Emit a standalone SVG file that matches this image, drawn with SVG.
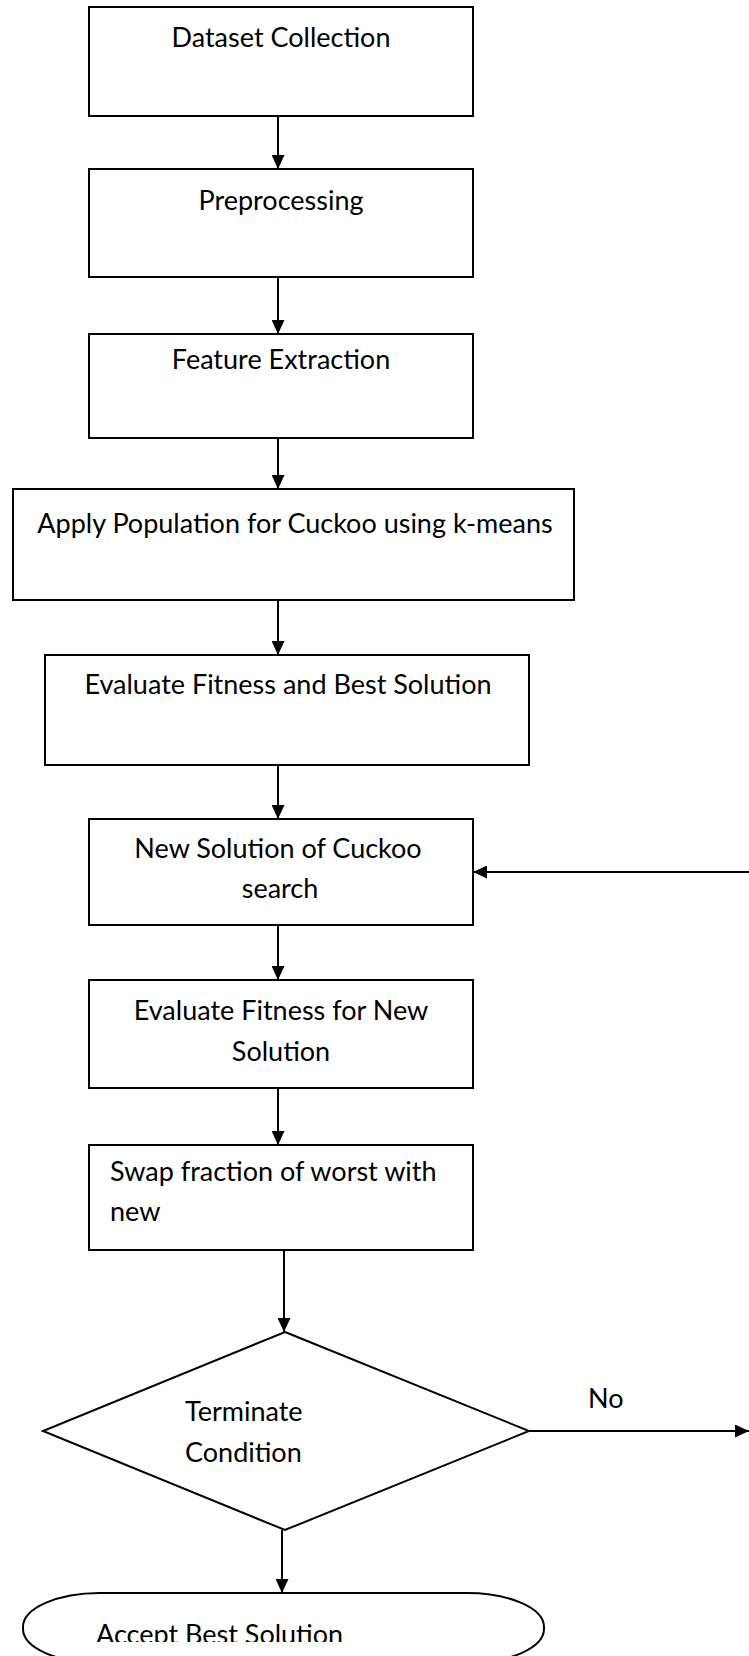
<svg xmlns="http://www.w3.org/2000/svg" width="749" height="1656" viewBox="0 0 749 1656">
<defs>
<style>
.box{fill:#fff;stroke:#000;stroke-width:2}
.ln{fill:none;stroke:#000;stroke-width:2}
.t{font-family:Lato,"Liberation Sans",sans-serif;font-size:27px;fill:#000}
.c{text-anchor:middle}
</style>
<marker id="ah" viewBox="0 0 14 13" refX="14" refY="6.5" markerWidth="14" markerHeight="13" markerUnits="userSpaceOnUse" orient="auto">
<path d="M0,0 L14,6.5 L0,13 Z" fill="#000"/>
</marker>
<clipPath id="clipA"><rect x="0" y="1590" width="749" height="52"/></clipPath>
</defs>
<rect width="749" height="1656" fill="#fff"/>
<g id="connectors">
<line class="ln" x1="278" y1="116" x2="278" y2="169" marker-end="url(#ah)"/>
<line class="ln" x1="278" y1="277" x2="278" y2="334" marker-end="url(#ah)"/>
<line class="ln" x1="278" y1="438" x2="278" y2="489" marker-end="url(#ah)"/>
<line class="ln" x1="278" y1="600" x2="278" y2="655" marker-end="url(#ah)"/>
<line class="ln" x1="278" y1="765" x2="278" y2="819" marker-end="url(#ah)"/>
<line class="ln" x1="278" y1="925" x2="278" y2="980" marker-end="url(#ah)"/>
<line class="ln" x1="278" y1="1088" x2="278" y2="1145" marker-end="url(#ah)"/>
<line class="ln" x1="284" y1="1250" x2="284" y2="1332" marker-end="url(#ah)"/>
<line class="ln" x1="282" y1="1530" x2="282" y2="1593" marker-end="url(#ah)"/>
<line class="ln" x1="749" y1="872" x2="473" y2="872" marker-end="url(#ah)"/>
<line class="ln" x1="529" y1="1431" x2="749" y2="1431" marker-end="url(#ah)"/>
<text class="t" x="588" y="1408">No</text>
</g>
<g id="n1"><rect class="box" x="89" y="7" width="384" height="109"/><text class="t c" x="281" y="47">Dataset Collection</text></g>
<g id="n2"><rect class="box" x="89" y="169" width="384" height="108"/><text class="t c" x="281" y="210">Preprocessing</text></g>
<g id="n3"><rect class="box" x="89" y="334" width="384" height="104"/><text class="t c" x="281" y="369">Feature Extraction</text></g>
<g id="n4"><rect class="box" x="13" y="489" width="561" height="111"/><text class="t c" x="295" y="533">Apply Population for Cuckoo using k-means</text></g>
<g id="n5"><rect class="box" x="45" y="655" width="484" height="110"/><text class="t c" x="288" y="694">Evaluate Fitness and Best Solution</text></g>
<g id="n6"><rect class="box" x="89" y="819" width="384" height="106"/><text class="t c" x="278" y="858">New Solution of Cuckoo</text><text class="t c" x="280" y="898">search</text></g>
<g id="n7"><rect class="box" x="89" y="980" width="384" height="108"/><text class="t c" x="281" y="1020">Evaluate Fitness for New</text><text class="t c" x="281" y="1061">Solution</text></g>
<g id="n8"><rect class="box" x="89" y="1145" width="384" height="105"/><text class="t" x="110" y="1181">Swap fraction of worst with</text><text class="t" x="110" y="1221">new</text></g>
<g id="n9"><polygon class="box" points="285,1332 529,1431 285,1530 43,1431"/><text class="t" x="185" y="1421">Terminate</text><text class="t" x="185" y="1462">Condition</text></g>
<g id="n10"><rect class="box" x="23" y="1593" width="521" height="70" rx="77" ry="34"/><text class="t" x="96" y="1644" clip-path="url(#clipA)">Accept Best Solution</text></g>
</svg>
